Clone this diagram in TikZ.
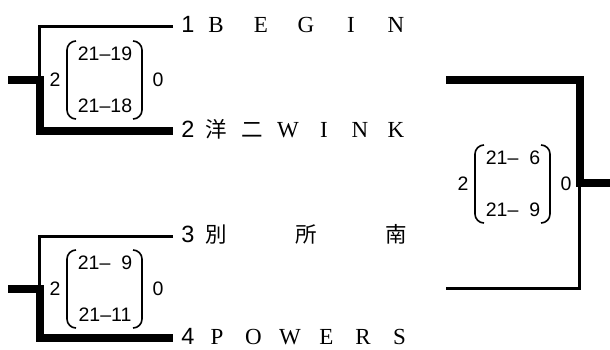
\documentclass[tikz,border=0pt]{standalone}
\usepackage{fontspec}
\setmainfont{Liberation Serif}
\newfontfamily\digitfont{Liberation Sans}
\newfontfamily\jpfont{Noto Sans CJK JP}
\usetikzlibrary{calc}

\begin{document}
\begin{tikzpicture}[x=1pt,y=-1pt,
  thinline/.style={line width=3pt, line join=miter},
  thickline/.style={line width=7.5pt, line join=miter},
  paren/.style={line width=1.6pt, rounded corners=9pt},
  seed/.style={font=\digitfont\fontsize{23.5}{23.5}\selectfont, inner sep=0pt, anchor=base},
  letter/.style={font=\fontsize{23}{23}\selectfont, inner sep=0pt, anchor=base},
  kanji/.style={font=\jpfont\fontsize{21.5}{21.5}\selectfont, inner sep=0pt, anchor=base},
  scoretxt/.style={font=\digitfont\fontsize{19.5}{19.5}\selectfont, inner sep=0pt}]
\useasboundingbox (0,0) rectangle (610,349);

% Bracket corners
\coordinate (t1) at (173,26);
\coordinate (t2) at (173,131);
\coordinate (t3) at (173,236);
\coordinate (t4) at (173,338);
\coordinate (w12) at (8,80);
\coordinate (w34) at (8,289);
\coordinate (f12) at (446,80);
\coordinate (f34) at (446,288);
\coordinate (win) at (610,183);

% First round, top
\draw[thinline] (t1) -- (39,26) -- (39,80);
\draw[thickline] (w12) -- (40,80) -- (40,131) -- (t2);

% First round, bottom
\draw[thinline] (t3) -- (39,236) -- (39,289);
\draw[thickline] (w34) -- (40,289) -- (40,338) -- (t4);

% Final
\draw[thickline] (f12) -- (580,80) -- (580,183) -- (win);
\draw[thinline] (579,183) -- (579,288) -- (f34);

% Entries
\node[seed] (s1) at (188,32.5) {1};
\foreach \c [count=\i] in {B,E,G,I,N}
  \node[letter] (n1-\i) at ({216+45*(\i-1)},32.5) {\c};

\node[seed] (s2) at (188,137.5) {2};
\node[kanji] (n2-1) at (216,137.5) {洋};
\node[kanji] (n2-2) at (252,137.5) {二};
\foreach \c [count=\i from 3] in {W,I,N,K}
  \node[letter] (n2-\i) at ({216+36*(\i-1)},137.5) {\c};

\node[seed] (s3) at (188,242.5) {3};
\foreach \c [count=\i] in {別,所,南}
  \node[kanji] (n3-\i) at ({216+90*(\i-1)},242.5) {\c};

\node[seed] (s4) at (188,344.5) {4};
\foreach \c [count=\i] in {P,O,W,E,R,S}
  \node[letter] (n4-\i) at ({217+36.5*(\i-1)},344.5) {\c};

% Scores
\foreach \cx/\cy/\ga/\gb [count=\k] in
  {0/80/21\textendash19/21\textendash18,
   0/289/21\textendash\hphantom{0}9/21\textendash11,
   408/184/21\textendash\hphantom{0}6/21\textendash\hphantom{0}9}{
  \node[scoretxt] (sc\k-l) at (55+\cx,\cy) {2};
  \node[scoretxt] (sc\k-r) at (158+\cx,\cy) {0};
  \node[scoretxt] (sc\k-a) at (105+\cx,\cy-26) {\ga};
  \node[scoretxt] (sc\k-b) at (105+\cx,\cy+26) {\gb};
  \draw[paren] (76+\cx,\cy-39) -- (67+\cx,\cy-39) -- (67+\cx,\cy+39) -- (76+\cx,\cy+39);
  \draw[paren] (133+\cx,\cy-39) -- (142+\cx,\cy-39) -- (142+\cx,\cy+39) -- (133+\cx,\cy+39);
}
\end{tikzpicture}
\end{document}
